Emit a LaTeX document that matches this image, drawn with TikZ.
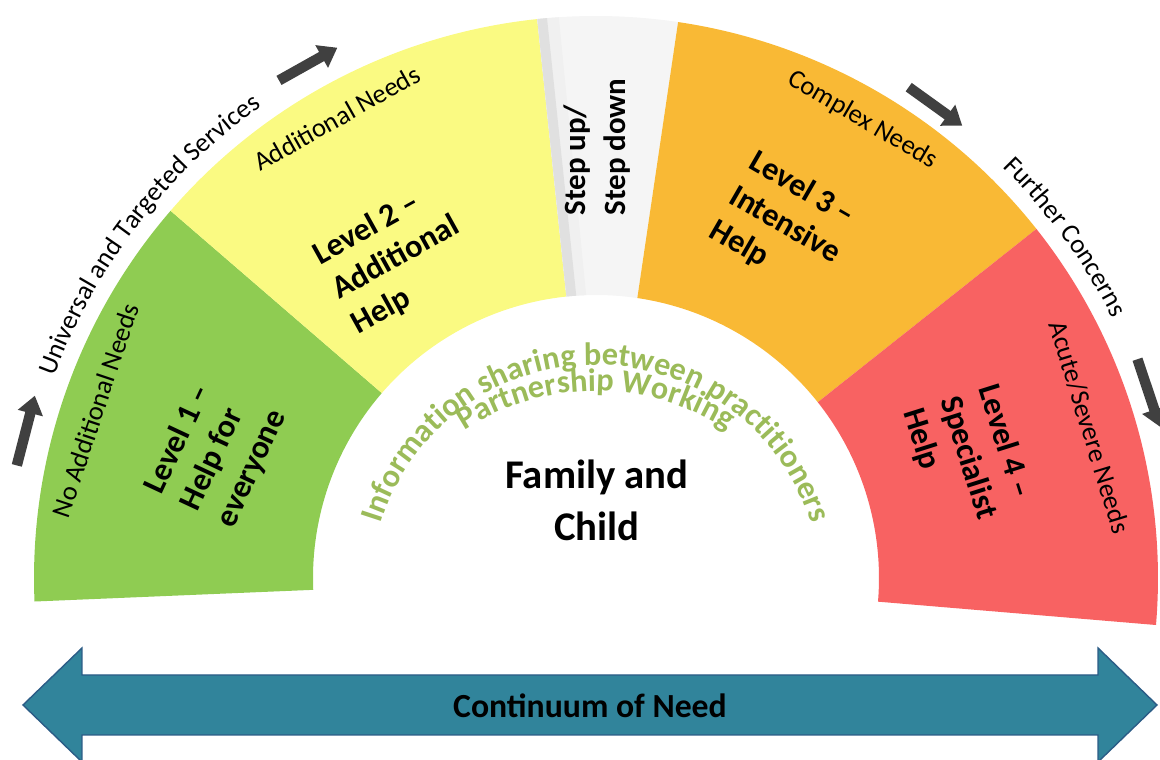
\documentclass[tikz,border=0pt]{standalone}
\usepackage{fontspec}
\setmainfont{Carlito}
\usetikzlibrary{arrows.meta,decorations.text}

\definecolor{lvlgreen}{HTML}{8FCC52}
\definecolor{lvlyellow}{HTML}{FAFA82}
\definecolor{lvlorange}{HTML}{F9B935}
\definecolor{lvlred}{HTML}{F86262}
\definecolor{infogreen}{HTML}{9BBB59}
\definecolor{needteal}{HTML}{31849B}
\definecolor{neededge}{HTML}{2B5C86}
\definecolor{stepgray}{HTML}{404040}

\tikzset{
  level/.style={font=\bfseries\fontsize{23}{28}\selectfont, align=left, inner sep=0pt},
  need/.style={font=\fontsize{19}{23}\selectfont, inner sep=0pt},
  stepper/.style={line width=0.26cm, draw=stepgray, -{Triangle[length=0.45cm,width=0.62cm]}},
}

\begin{document}
\begin{tikzpicture}
    \useasboundingbox (-14.9,-4.55) rectangle (14.1,14.45);

    % Level 1: green
    \fill[lvlgreen] (182.4:7.075) -- (182.4:14.05) arc[start angle=182.4, end angle=139.2, radius=14.05] -- (139.2:7.075) arc[start angle=139.2, end angle=182.4, radius=7.075] -- cycle;
    % Level 2: yellow
    \fill[lvlyellow] (139.2:7.075) -- (139.2:14.05) arc[start angle=139.2, end angle=96, radius=14.05] -- (96:7.075) arc[start angle=96, end angle=139.2, radius=7.075] -- cycle;
    % Step up / step down gap, with its grey bevel on the left
    \fill[white!96!black] (96:7.075) -- (96:14.05) arc[start angle=96, end angle=81.6, radius=14.05] -- (81.6:7.075) arc[start angle=81.6, end angle=96, radius=7.075] -- cycle;
    \fill[black!6] (96:7.075) -- (96:14.05) arc[start angle=96, end angle=93.8, radius=14.05] -- (92:7.075) arc[start angle=92, end angle=96, radius=7.075] -- cycle;
    \fill[black!12] (96:7.075) -- (96:14.05) arc[start angle=96, end angle=95, radius=14.05] -- (94:7.075) arc[start angle=94, end angle=96, radius=7.075] -- cycle;
    % Level 3: orange
    \fill[lvlorange] (81.6:7.075) -- (81.6:14.05) arc[start angle=81.6, end angle=38.4, radius=14.05] -- (38.4:7.075) arc[start angle=38.4, end angle=81.6, radius=7.075] -- cycle;
    % Level 4: red
    \fill[lvlred] (38.4:7.075) -- (38.4:14.05) arc[start angle=38.4, end angle=-4.8, radius=14.05] -- (-4.8:7.075) arc[start angle=-4.8, end angle=38.4, radius=7.075] -- cycle;

    % Level texts
    \node[level, rotate=65] (L1) at (-9.5,3.15) {Level 1 –\\Help for\\everyone};
    \node[level, rotate=29] (L2) at (-5.0,8.0) {Level 2 –\\Additional\\Help};
    \node[level, font=\bfseries\fontsize{22}{28}\selectfont, rotate=90] (Step) at (0.025,10.775) {Step up/\\Step down};
    \node[level, rotate=-30] (L3) at (4.725,8.825) {Level 3 –\\Intensive\\Help};
    \node[level, rotate=-72.5] (L4) at (9.3,3.0) {Level 4 –\\Specialist\\Help};

    % Needs along the rim
    \node[need, rotate=71.5] (NoAdd) at (161.5:13.2) {No Additional Needs};
    \node[need, rotate=29.4] (Add) at (119.4:13.2) {Additional Needs};
    \node[need, rotate=-30.2] (Complex) at (59.8:13.25) {Complex Needs};
    \node[need, rotate=-73] (Acute) at (17:12.9) {Acute/Severe Needs};

    % Services outside the fan
    \path[decorate, decoration={text along path, text align=center, text={|\fontsize{19}{23}\selectfont|Universal and Targeted Services}}] (172.5:14.45) arc[start angle=172.5, end angle=112.5, radius=14.45];
    \path[decorate, decoration={text along path, text align=center, text={|\fontsize{19}{23}\selectfont|Further Concerns}}] (56:14.45) arc[start angle=56, end angle=16, radius=14.45];

    % Small arrows round the fan
    \coordinate (s1a) at (169:14.75);
    \coordinate (s1b) at (162:14.75);
    \coordinate (s2a) at (122.5:14.75);
    \coordinate (s2b) at (116:14.75);
    \coordinate (s3a) at (57.5:14.55);
    \coordinate (s3b) at (51:14.55);
    \coordinate (s4a) at (22:14.6);
    \coordinate (s4b) at (15:14.6);
    \draw[stepper] (s1a) -- (s1b);
    \draw[stepper] (s2a) -- (s2b);
    \draw[stepper] (s3a) -- (s3b);
    \draw[stepper] (s4a) -- (s4b);

    % Centre
    \path[decorate, shift={(0,-0.3)}, decoration={text along path, text align=center, text color=infogreen, text={|\bfseries\fontsize{23}{28}\selectfont|Information sharing between practitioners}}] (172:5.625) arc[start angle=172, end angle=8, radius=5.625];
    \path[decorate, shift={(0,-1.325)}, decoration={text along path, text align=center, text color=infogreen, text={|\bfseries\fontsize{23}{28}\selectfont|Partnership Working}}] (145:6.0) arc[start angle=145, end angle=35, radius=6.0];
    \node[font=\bfseries\fontsize{29}{37}\selectfont, align=center] (Family) at (0.025,1.95) {Family and\\Child};

    % Continuum arrow
    \filldraw[fill=needteal, draw=neededge, line width=1pt] (-14.325,-3.175) -- (-12.85,-1.75) -- (-12.85,-2.425) -- (12.55,-2.425) -- (12.55,-1.75) -- (14.025,-3.175) -- (12.55,-4.6) -- (12.55,-3.925) -- (-12.85,-3.925) -- (-12.85,-4.6) -- cycle;
    \node[font=\bfseries\fontsize{24}{29}\selectfont] (Continuum) at (-0.15,-3.2) {Continuum of Need};

\end{tikzpicture}
\end{document}
